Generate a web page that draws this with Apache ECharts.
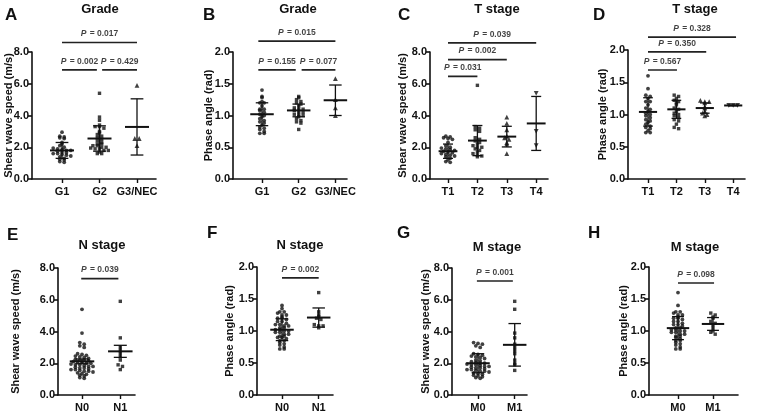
<!DOCTYPE html>
<html>
<head>
<meta charset="utf-8">
<script src="https://cdn.jsdelivr.net/npm/echarts@6/dist/echarts.min.js"></script>
<style>
  html, body { margin: 0; padding: 0; background: #fff; }
  #chart { width: 760px; height: 414px; }
</style>
</head>
<body>
<div id="chart"></div>
<script>
// ---------- data ----------
const gradeCats = ['G1', 'G2', 'G3/NEC'];
const tCats = ['T1', 'T2', 'T3', 'T4'];
const nCats = ['N0', 'N1'];
const mCats = ['M0', 'M1'];

// A: shear wave speed by grade
const swsG1 = [2.95, 2.7, 2.65, 2.6, 2.55, 2.3, 2.2, 2.1, 2.0, 1.95, 1.9, 1.85, 1.8, 1.8, 1.75, 1.7, 1.65, 1.6, 1.6, 1.55, 1.5, 1.45, 1.4, 1.3, 1.25, 1.2, 1.1, 1.05];
const swsG2 = [5.4, 3.9, 3.7, 3.4, 3.3, 3.3, 3.2, 3.0, 2.9, 2.8, 2.7, 2.6, 2.5, 2.4, 2.3, 2.2, 2.2, 2.1, 2.1, 2.0, 2.0, 1.95, 1.9, 1.9, 1.8, 1.8, 1.7, 1.6, 1.6];
const swsG3 = [5.9, 2.55, 2.55, 2.1];
const swsGradeMean = [1.8, 2.55, 3.28];
const swsGradeSd = [0.5, 0.8, 1.77];
const swsGradeP = [[1, 3, 8.6, '0.017'], [1, 1.93, 6.88, '0.002'], [2.07, 3, 6.88, '0.429']];

// B: phase angle by grade
const paG1 = [1.4, 1.3, 1.28, 1.22, 1.2, 1.2, 1.15, 1.1, 1.1, 1.08, 1.05, 1.02, 1.0, 0.98, 0.95, 0.92, 0.9, 0.88, 0.85, 0.82, 0.8, 0.78, 0.75, 0.72, 0.72];
const paG2 = [1.3, 1.28, 1.25, 1.22, 1.2, 1.18, 1.15, 1.12, 1.1, 1.1, 1.08, 1.05, 1.05, 1.02, 1.0, 1.0, 0.98, 0.95, 0.92, 0.9, 0.88, 0.78];
const paG3 = [1.58, 1.25, 1.12, 1.0];
const paGradeMean = [1.02, 1.08, 1.24];
const paGradeSd = [0.18, 0.1, 0.24];
const paGradeP = [[0.9, 3, 2.17, '0.015'], [0.9, 1.92, 1.72, '0.155'], [2.08, 3, 1.72, '0.077']];

// C: shear wave speed by T stage
const swsT1 = [2.7, 2.65, 2.6, 2.55, 2.5, 2.3, 2.1, 2.0, 1.95, 1.9, 1.85, 1.8, 1.75, 1.7, 1.65, 1.6, 1.55, 1.5, 1.45, 1.4, 1.3, 1.2, 1.1, 1.05];
const swsT2 = [5.9, 3.3, 3.2, 3.1, 3.0, 2.6, 2.5, 2.4, 2.3, 2.2, 2.1, 2.0, 2.0, 1.9, 1.8, 1.7, 1.6, 1.5, 1.45, 1.4];
const swsT3 = [3.9, 3.5, 3.1, 2.7, 2.6, 2.5, 2.3, 2.2, 1.6];
const swsT4 = [5.4, 3.0, 2.1];
const swsTMean = [1.75, 2.42, 2.67, 3.5];
const swsTSd = [0.45, 0.95, 0.65, 1.7];
const swsTP = [[1, 4, 8.57, '0.039'], [1, 3, 7.52, '0.002'], [1, 2, 6.46, '0.031']];

// D: phase angle by T stage
const paT1 = [1.6, 1.4, 1.3, 1.28, 1.25, 1.2, 1.2, 1.15, 1.1, 1.08, 1.05, 1.02, 1.0, 0.98, 0.95, 0.92, 0.9, 0.88, 0.85, 0.82, 0.8, 0.78, 0.75, 0.72, 0.72];
const paT2 = [1.3, 1.28, 1.25, 1.22, 1.2, 1.18, 1.15, 1.1, 1.08, 1.05, 1.02, 1.0, 0.98, 0.95, 0.92, 0.9, 0.85, 0.8, 0.78];
const paT3 = [1.22, 1.2, 1.2, 1.18, 1.12, 1.1, 1.05, 1.02, 1.0, 0.98];
const paT4 = [1.14, 1.14, 1.14];
const paTMean = [1.04, 1.08, 1.1, 1.14];
const paTSd = [0.22, 0.14, 0.08, 0.005];
const paTP = [[1, 4.1, 2.2, '0.328'], [1, 3.05, 1.97, '0.350'], [1, 2.02, 1.69, '0.567']];

// E: shear wave speed by N stage
const swsN0 = [5.4, 3.9, 3.3, 3.2, 3.1, 3.0, 2.6, 2.55, 2.5, 2.45, 2.4, 2.35, 2.3, 2.25, 2.2, 2.2, 2.15, 2.1, 2.1, 2.05, 2.0, 2.0, 1.95, 1.9, 1.9, 1.85, 1.8, 1.8, 1.75, 1.7, 1.7, 1.65, 1.6, 1.6, 1.55, 1.5, 1.5, 1.45, 1.4, 1.35, 1.3, 1.25, 1.2, 1.1, 1.05];
const swsN1 = [5.9, 3.6, 3.0, 2.8, 2.6, 2.4, 2.2, 1.9, 1.8, 1.6];
const swsNMean = [2.12, 2.75];
const swsNSd = [0.15, 0.38];
const swsNP = [[0.98, 1.95, 7.33, '0.039']];

// F: phase angle by N stage
const paN0 = [1.4, 1.35, 1.3, 1.3, 1.28, 1.25, 1.25, 1.22, 1.2, 1.2, 1.18, 1.15, 1.15, 1.12, 1.1, 1.1, 1.08, 1.08, 1.05, 1.05, 1.02, 1.02, 1.0, 1.0, 0.98, 0.98, 0.95, 0.95, 0.92, 0.92, 0.9, 0.9, 0.88, 0.85, 0.85, 0.82, 0.8, 0.78, 0.75, 0.72, 0.72];
const paN1 = [1.6, 1.3, 1.25, 1.22, 1.2, 1.18, 1.1, 1.08, 1.08, 1.05];
const paNMean = [1.02, 1.21];
const paNSd = [0.17, 0.15];
const paNP = [[1, 2, 1.83, '0.002']];

// G: shear wave speed by M stage
const swsM0 = [3.3, 3.25, 3.2, 3.1, 3.0, 2.6, 2.55, 2.5, 2.45, 2.4, 2.35, 2.3, 2.2, 2.15, 2.1, 2.05, 2.0, 2.0, 1.95, 1.9, 1.9, 1.85, 1.8, 1.8, 1.75, 1.7, 1.7, 1.65, 1.6, 1.6, 1.55, 1.5, 1.5, 1.45, 1.4, 1.35, 1.3, 1.25, 1.2, 1.15, 1.1, 1.05];
const swsM1 = [5.9, 5.4, 3.9, 3.6, 3.2, 3.0, 2.8, 2.6, 2.2, 2.0, 1.9, 1.55];
const swsMMean = [2.0, 3.16];
const swsMSd = [0.6, 1.34];
const swsMP = [[0.97, 1.95, 7.18, '0.001']];

// H: phase angle by M stage
const paM0 = [1.6, 1.4, 1.3, 1.3, 1.28, 1.25, 1.25, 1.22, 1.2, 1.2, 1.18, 1.15, 1.15, 1.12, 1.1, 1.1, 1.08, 1.05, 1.05, 1.02, 1.02, 1.0, 1.0, 0.98, 0.98, 0.95, 0.95, 0.92, 0.92, 0.9, 0.88, 0.85, 0.85, 0.82, 0.8, 0.78, 0.75, 0.72, 0.72];
const paM1 = [1.28, 1.25, 1.22, 1.2, 1.15, 1.12, 1.1, 1.05, 1.0, 0.98, 0.95];
const paMMean = [1.045, 1.11];
const paMSd = [0.18, 0.1];
const paMP = [[1, 2.03, 1.75, '0.098']];

const SWS = 'Shear wave speed (m/s)';
const PA = 'Phase angle (rad)';

// ---------- layout ----------
// box: [axisLeft, plotTop, axisRight, plotBottom], c1: x of first category, sp: category spacing
const panels = [
  { letter: 'A', title: 'Grade',   lp: [5, 15],    tp: [100, 9],  box: [32, 52, 156, 179],  c1: 62,  sp: 37.5, yMax: 8, step: 2,   yName: SWS, gap: 18, cats: gradeCats, groups: [swsG1, swsG2, swsG3], mean: swsGradeMean, sd: swsGradeSd, p: swsGradeP },
  { letter: 'B', title: 'Grade',   lp: [203, 15],  tp: [298, 9],  box: [233, 52, 347, 179], c1: 262, sp: 36.7, yMax: 2, step: 0.5, yName: PA,  gap: 19, cats: gradeCats, groups: [paG1, paG2, paG3], mean: paGradeMean, sd: paGradeSd, p: paGradeP },
  { letter: 'C', title: 'T stage', lp: [398, 15],  tp: [497, 9],  box: [430, 52, 548, 179], c1: 448, sp: 29.4, yMax: 8, step: 2,   yName: SWS, gap: 22, cats: tCats, groups: [swsT1, swsT2, swsT3, swsT4], mean: swsTMean, sd: swsTSd, p: swsTP },
  { letter: 'D', title: 'T stage', lp: [593, 15],  tp: [695, 9],  box: [628, 50, 745, 179], c1: 648, sp: 28.4, yMax: 2, step: 0.5, yName: PA,  gap: 20, cats: tCats, groups: [paT1, paT2, paT3, paT4], mean: paTMean, sd: paTSd, p: paTP },
  { letter: 'E', title: 'N stage', lp: [7, 235],   tp: [102, 245], box: [58, 268, 135, 395],  c1: 82,  sp: 38.3, yMax: 8, step: 2,   yName: SWS, gap: 37, cats: nCats, groups: [swsN0, swsN1], mean: swsNMean, sd: swsNSd, p: swsNP },
  { letter: 'F', title: 'N stage', lp: [207, 233], tp: [300, 245], box: [257, 267, 333, 395], c1: 282, sp: 36.7, yMax: 2, step: 0.5, yName: PA,  gap: 22, cats: nCats, groups: [paN0, paN1], mean: paNMean, sd: paNSd, p: paNP },
  { letter: 'G', title: 'M stage', lp: [397, 233], tp: [497, 247], box: [452, 268, 527, 395], c1: 478, sp: 36.7, yMax: 8, step: 2,   yName: SWS, gap: 21, cats: mCats, groups: [swsM0, swsM1], mean: swsMMean, sd: swsMSd, p: swsMP },
  { letter: 'H', title: 'M stage', lp: [588, 233], tp: [695, 247], box: [649, 267, 738, 395], c1: 678, sp: 35,   yMax: 2, step: 0.5, yName: PA,  gap: 20, cats: mCats, groups: [paM0, paM1], mean: paMMean, sd: paMSd, p: paMP }
];

const markers = ['circle', 'rect', 'triangle', 'triangle'];
const markerSize = [3.8, 3.4, 4.8, 4.8];
const FONT = '"Liberation Sans", Arial, sans-serif';
const INK = '#111';

// Prism-style column scatter: values sharing a y-bin are spread sideways
function swarm(vals, pxPerY, sp) {
  const bin = 2.7 / pxPerY;
  const bins = {};
  vals.forEach(v => {
    const k = Math.round(v / bin);
    (bins[k] = bins[k] || []).push(v);
  });
  const out = [];
  Object.keys(bins).forEach(k => {
    const g = bins[k];
    g.forEach((v, i) => out.push([(i - (g.length - 1) / 2) * 4.4 / sp, v]));
  });
  return out;
}

const grid = [], xAxis = [], yAxis = [], series = [], graphic = [];

panels.forEach((pn, idx) => {
  const [l, t, r, b] = pn.box;
  const pxPerY = (b - t) / pn.yMax;
  const catPos = pn.cats.map((c, i) => i + 1);
  grid.push({ left: l, top: t, width: r - l, height: b - t, outerBoundsMode: 'none' });
  xAxis.push({
    type: 'value', gridIndex: idx,
    min: 1 - (pn.c1 - l) / pn.sp, max: 1 + (r - pn.c1) / pn.sp,
    splitLine: { show: false },
    axisLine: { lineStyle: { color: INK, width: 1.6 } },
    axisTick: { show: true, customValues: catPos, length: 4, lineStyle: { color: INK, width: 1.4 } },
    axisLabel: {
      customValues: catPos,
      formatter: v => pn.cats[Math.round(v) - 1] || '',
      color: INK, fontWeight: 'bold', fontSize: 11, fontFamily: FONT, margin: 7
    }
  });
  yAxis.push({
    type: 'value', gridIndex: idx, min: 0, max: pn.yMax, interval: pn.step,
    name: pn.yName, nameLocation: 'middle', nameGap: pn.gap, nameMoveOverlap: false,
    nameTextStyle: { color: INK, fontWeight: 'bold', fontSize: 11, fontFamily: FONT },
    splitLine: { show: false },
    axisLine: { show: true, lineStyle: { color: INK, width: 1.6 } },
    axisTick: { show: true, length: 4, lineStyle: { color: INK, width: 1.6 } },
    axisLabel: { formatter: v => v.toFixed(1), color: INK, fontWeight: 'bold', fontSize: 11, fontFamily: FONT, margin: 3 }
  });

  // points
  pn.groups.forEach((vals, gi) => {
    const pts = swarm(vals, pxPerY, pn.sp).map(d => [gi + 1 + d[0], d[1]]);
    series.push({
      type: 'scatter', xAxisIndex: idx, yAxisIndex: idx, data: pts,
      symbol: markers[gi], symbolSize: markerSize[gi],
      symbolRotate: gi === 3 ? 180 : 0,
      itemStyle: { color: INK }, silent: true, z: 2
    });
  });

  // mean ± SD
  series.push({
    type: 'custom', xAxisIndex: idx, yAxisIndex: idx, z: 3, silent: true, clip: false,
    data: pn.mean.map((m, i) => [i + 1, m, pn.sd[i]]),
    renderItem: (params, api) => {
      const x = api.value(0), m = api.value(1), s = api.value(2);
      const c = api.coord([x, m]);
      const hi = api.coord([x, m + s]);
      const lo = api.coord([x, m - s]);
      const half = api.size([0.32, 0])[0];
      const cap = api.size([0.17, 0])[0];
      const st = { stroke: INK, lineWidth: 1.3 };
      return {
        type: 'group',
        children: [
          { type: 'line', shape: { x1: c[0] - half, y1: c[1], x2: c[0] + half, y2: c[1] }, style: { stroke: INK, lineWidth: 2 } },
          { type: 'line', shape: { x1: c[0], y1: hi[1], x2: c[0], y2: lo[1] }, style: st },
          { type: 'line', shape: { x1: c[0] - cap, y1: hi[1], x2: c[0] + cap, y2: hi[1] }, style: st },
          { type: 'line', shape: { x1: c[0] - cap, y1: lo[1], x2: c[0] + cap, y2: lo[1] }, style: st }
        ]
      };
    }
  });

  // significance bars
  pn.p.forEach(([x1, x2, y, pv]) => {
    series.push({
      type: 'line', xAxisIndex: idx, yAxisIndex: idx, clip: false, silent: true,
      symbol: 'none', data: [[x1, y], [x2, y]],
      lineStyle: { color: '#222', width: 1.7 }
    });
    series.push({
      type: 'scatter', xAxisIndex: idx, yAxisIndex: idx, clip: false, silent: true,
      data: [[(x1 + x2) / 2, y]], symbolSize: 1, itemStyle: { color: 'transparent' },
      label: {
        show: true, position: 'top', distance: 2,
        formatter: '{i|P} {n|= ' + pv + '}',
        rich: {
          i: { fontStyle: 'italic', fontSize: 8.5, fontWeight: 'bold', color: INK, fontFamily: FONT },
          n: { fontSize: 8.5, fontWeight: 'bold', color: INK, fontFamily: FONT }
        }
      }
    });
  });

  graphic.push({
    type: 'text', x: pn.lp[0], y: pn.lp[1],
    style: { text: pn.letter, fill: INK, font: 'bold 17px ' + FONT, textVerticalAlign: 'middle' }
  });
  graphic.push({
    type: 'text', x: pn.tp[0], y: pn.tp[1],
    style: { text: pn.title, fill: INK, font: 'bold 13px ' + FONT, textAlign: 'center', textVerticalAlign: 'middle' }
  });
});

const chart = echarts.init(document.getElementById('chart'));
chart.setOption({
  animation: false,
  backgroundColor: '#fff',
  grid, xAxis, yAxis, series, graphic
});
</script>
</body>
</html>
